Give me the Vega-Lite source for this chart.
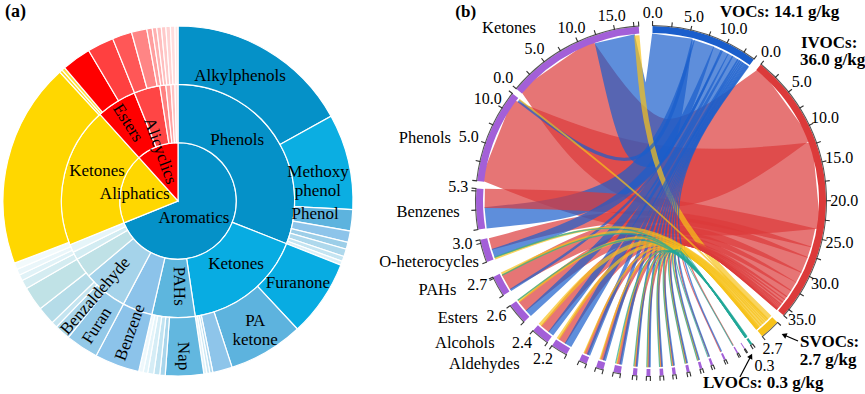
{
"$schema": "https://vega.github.io/schema/vega-lite/v6.json",
"padding": 0,
"spacing": 23,
"config": {"view": {"stroke": null}, "font": "Liberation Serif"},
"resolve": {"scale": {"theta": "independent", "radius": "independent", "color": "independent", "x": "independent", "y": "independent", "size": "independent"}},
"datasets": {
 "sectors": [
  {"n":"VOCs","g":"VOCs","a0":0.5,"a1":36.0},
  {"n":"IVOCs","g":"IVOCs","a0":38.8,"a1":130.8},
  {"n":"SVOCs","g":"SVOCs","a0":133.8,"a1":140.6},
  {"n":"LVOCs","g":"LVOCs","a0":144.6,"a1":145.4},
  {"n":"s13","g":"Receiver","a0":147.5,"a1":147.8},
  {"n":"s12","g":"Receiver","a0":150.1,"a1":150.6},
  {"n":"s11","g":"Receiver","a0":154.7,"a1":155.4},
  {"n":"s10","g":"Receiver","a0":159.2,"a1":160.0},
  {"n":"s9","g":"Receiver","a0":162.9,"a1":163.8},
  {"n":"s8","g":"Receiver","a0":167.2,"a1":168.2},
  {"n":"s7","g":"Receiver","a0":171.8,"a1":172.9},
  {"n":"s6","g":"Receiver","a0":175.9,"a1":177.1},
  {"n":"s5","g":"Receiver","a0":180.2,"a1":181.5},
  {"n":"s4","g":"Receiver","a0":184.6,"a1":186.0},
  {"n":"s3","g":"Receiver","a0":190.0,"a1":192.4},
  {"n":"s2","g":"Receiver","a0":195.8,"a1":198.3},
  {"n":"s1","g":"Receiver","a0":201.6,"a1":204.2},
  {"n":"Aldehydes","g":"Receiver","a0":208.8,"a1":214.4},
  {"n":"Alcohols","g":"Receiver","a0":216.2,"a1":222.3},
  {"n":"Esters","g":"Receiver","a0":226.4,"a1":233.4},
  {"n":"PAHs","g":"Receiver","a0":237.4,"a1":244.3},
  {"n":"O-heterocycles","g":"Receiver","a0":249.6,"a1":257.2},
  {"n":"Benzenes","g":"Receiver","a0":260.6,"a1":274.1},
  {"n":"Phenols","g":"Receiver","a0":276.6,"a1":307.8},
  {"n":"Ketones","g":"Receiver","a0":309.8,"a1":356.0}
 ],
 "arrows": [
  {"id":"SVOCs","a":133.6,"r":1.16,"o":0},
  {"id":"SVOCs","a":135.2,"r":1.079,"o":1},
  {"id":"LVOCs","a":153.2,"r":1.127,"o":0},
  {"id":"LVOCs","a":147.2,"r":1.054,"o":1}
 ]
},
"hconcat": [
 {
  "width": 356, "height": 402,
  "layer": [
   {
    "data": {"values": [
     {"n":"Aromatics","a0":0,"a1":248,"r0":0,"r1":1},
     {"n":"Aliphatics","a0":248,"a1":318,"r0":0,"r1":1},
     {"n":"Alicyclics","a0":318,"a1":360,"r0":0,"r1":1},
     {"n":"Phenols","a0":0,"a1":111.5,"r0":1,"r1":2},
     {"n":"Ketones (aromatic)","a0":111.5,"a1":171.5,"r0":1,"r1":2},
     {"n":"PAHs","a0":171.5,"a1":193,"r0":1,"r1":2},
     {"n":"Benzenes","a0":193,"a1":207.9,"r0":1,"r1":2},
     {"n":"Aromatic aldehydes","a0":207.9,"a1":230,"r0":1,"r1":2},
     {"n":"Aromatic other 1","a0":230,"a1":240,"r0":1,"r1":2},
     {"n":"Aromatic other 2","a0":240,"a1":244,"r0":1,"r1":2},
     {"n":"Aromatic other 3","a0":244,"a1":248,"r0":1,"r1":2},
     {"n":"Ketones (aliphatic)","a0":248,"a1":318,"r0":1,"r1":2},
     {"n":"Esters","a0":318,"a1":338,"r0":1,"r1":2},
     {"n":"Alicyclic other 1","a0":338,"a1":351,"r0":1,"r1":2},
     {"n":"Alicyclic other 2","a0":351,"a1":354,"r0":1,"r1":2},
     {"n":"Alicyclic other 3","a0":354,"a1":356.5,"r0":1,"r1":2},
     {"n":"Alicyclic other 4","a0":356.5,"a1":358.5,"r0":1,"r1":2},
     {"n":"Alicyclic other 5","a0":358.5,"a1":360,"r0":1,"r1":2},
     {"n":"Alkylphenols","a0":0,"a1":61,"r0":2,"r1":3},
     {"n":"Methoxyphenol","a0":61,"a1":92.8,"r0":2,"r1":3},
     {"n":"Phenol","a0":92.8,"a1":99.9,"r0":2,"r1":3},
     {"n":"Phenols 4","a0":99.9,"a1":103.7,"r0":2,"r1":3},
     {"n":"Phenols 5","a0":103.7,"a1":106,"r0":2,"r1":3},
     {"n":"Phenols 6","a0":106,"a1":108.5,"r0":2,"r1":3},
     {"n":"Phenols 7","a0":108.5,"a1":110.2,"r0":2,"r1":3},
     {"n":"Phenols 8","a0":110.2,"a1":111.5,"r0":2,"r1":3},
     {"n":"Furanone","a0":111.5,"a1":137,"r0":2,"r1":3},
     {"n":"PA ketone","a0":137,"a1":162,"r0":2,"r1":3},
     {"n":"Ketones 3","a0":162,"a1":168.5,"r0":2,"r1":3},
     {"n":"Ketones 4","a0":168.5,"a1":169.5,"r0":2,"r1":3},
     {"n":"Ketones 5","a0":169.5,"a1":170.5,"r0":2,"r1":3},
     {"n":"Ketones 6","a0":170.5,"a1":171.5,"r0":2,"r1":3},
     {"n":"Nap","a0":171.5,"a1":184.2,"r0":2,"r1":3},
     {"n":"PAHs 2","a0":184.2,"a1":186,"r0":2,"r1":3},
     {"n":"PAHs 3","a0":186,"a1":188,"r0":2,"r1":3},
     {"n":"PAHs 4","a0":188,"a1":190,"r0":2,"r1":3},
     {"n":"PAHs 5","a0":190,"a1":191.5,"r0":2,"r1":3},
     {"n":"PAHs 6","a0":191.5,"a1":193,"r0":2,"r1":3},
     {"n":"Benzene","a0":193,"a1":207.9,"r0":2,"r1":3},
     {"n":"Furan","a0":207.9,"a1":218.8,"r0":2,"r1":3},
     {"n":"Benzaldehyde","a0":218.8,"a1":224,"r0":2,"r1":3},
     {"n":"Aromatic 4","a0":224,"a1":226,"r0":2,"r1":3},
     {"n":"Aromatic 5","a0":226,"a1":232,"r0":2,"r1":3},
     {"n":"Aromatic 6","a0":232,"a1":240,"r0":2,"r1":3},
     {"n":"Aromatic 7","a0":240,"a1":243,"r0":2,"r1":3},
     {"n":"Aromatic 8","a0":243,"a1":245,"r0":2,"r1":3},
     {"n":"Aromatic 9","a0":245,"a1":247,"r0":2,"r1":3},
     {"n":"Aromatic 10","a0":247,"a1":249.2,"r0":2,"r1":3},
     {"n":"Aliphatic ketones 1","a0":249.2,"a1":317.5,"r0":2,"r1":3},
     {"n":"Aliphatic ketones 2","a0":317.5,"a1":318.5,"r0":2,"r1":3},
     {"n":"Aliphatic ketones 3","a0":318.5,"a1":319.6,"r0":2,"r1":3},
     {"n":"Esters 1","a0":319.6,"a1":329.3,"r0":2,"r1":3},
     {"n":"Esters 2","a0":329.3,"a1":338.1,"r0":2,"r1":3},
     {"n":"Alicyclics 1","a0":338.1,"a1":344.6,"r0":2,"r1":3},
     {"n":"Alicyclics 2","a0":344.6,"a1":349.7,"r0":2,"r1":3},
     {"n":"Alicyclics 3","a0":349.7,"a1":351.5,"r0":2,"r1":3},
     {"n":"Alicyclics 4","a0":351.5,"a1":353,"r0":2,"r1":3},
     {"n":"Alicyclics 5","a0":353,"a1":354.5,"r0":2,"r1":3},
     {"n":"Alicyclics 6","a0":354.5,"a1":356,"r0":2,"r1":3},
     {"n":"Alicyclics 7","a0":356,"a1":357.5,"r0":2,"r1":3},
     {"n":"Alicyclics 8","a0":357.5,"a1":359,"r0":2,"r1":3},
     {"n":"Alicyclics 9","a0":359,"a1":360,"r0":2,"r1":3}
    ]},
    "mark": {"type": "arc", "stroke": "white", "strokeWidth": 1.2},
    "encoding": {
     "theta": {"field": "a0", "type": "quantitative", "stack": null, "scale": {"domain": [0, 360], "range": [0, 6.283185307179586]}},
     "theta2": {"field": "a1"},
     "radius": {"field": "r0", "type": "quantitative", "scale": {"type": "linear", "domain": [0, 3], "range": [0, 175]}},
     "radius2": {"field": "r1"},
     "color": {"field": "n", "type": "nominal", "legend": null, "scale": {
      "domain": ["Aromatics","Aliphatics","Alicyclics","Phenols","Ketones (aromatic)","PAHs","Benzenes","Aromatic aldehydes","Aromatic other 1","Aromatic other 2","Aromatic other 3","Ketones (aliphatic)","Esters","Alicyclic other 1","Alicyclic other 2","Alicyclic other 3","Alicyclic other 4","Alicyclic other 5","Alkylphenols","Methoxyphenol","Phenol","Phenols 4","Phenols 5","Phenols 6","Phenols 7","Phenols 8","Furanone","PA ketone","Ketones 3","Ketones 4","Ketones 5","Ketones 6","Nap","PAHs 2","PAHs 3","PAHs 4","PAHs 5","PAHs 6","Benzene","Furan","Benzaldehyde","Aromatic 4","Aromatic 5","Aromatic 6","Aromatic 7","Aromatic 8","Aromatic 9","Aromatic 10","Aliphatic ketones 1","Aliphatic ketones 2","Aliphatic ketones 3","Esters 1","Esters 2","Alicyclics 1","Alicyclics 2","Alicyclics 3","Alicyclics 4","Alicyclics 5","Alicyclics 6","Alicyclics 7","Alicyclics 8","Alicyclics 9"],
      "range": ["#0591C8","#FFD700","#FF0000","#0591C8","#08ACE2","#5DB6DE","#8CC3EA","#A5D3EA","#BFE1E6","#D3ECF2","#E6F5F9","#FFD700","#FF0000","#FF4545","#FF8080","#FFA3A3","#FFC2C2","#FFDDDD","#0591C8","#0BAEE2","#5DB3DE","#8DC4EA","#9CCEE8","#AED8EC","#C5E5F2","#DCF0F8","#08ACE2","#5DB3DE","#8EC5EA","#B3DAEF","#CDE8F4","#E2F2F9","#62B7DF","#A9D6EC","#C1E3F1","#D5EDF6","#E3F4FA","#EEF8FC","#8CC3EA","#93C9E8","#A9D5EA","#C4E4F0","#B5DCE8","#C0E2E6","#D4ECF1","#E0F2F7","#EAF6FA","#F2FAFC","#FFD700","#FFDC20","#FFE040","#FF0000","#FF4040","#FF5757","#FF8585","#FF9E9E","#FFB0B0","#FFBEBE","#FFC9C9","#FFD3D3","#FFDDDD","#FFE7E7"]}}
    }
   },
   {
    "data": {"values": [
     {"t":"Alkylphenols","ta":26.4,"tr":2.39},
     {"t":"Phenols","ta":44,"tr":1.46},
     {"t":"Methoxy\nphenol","ta":78.3,"tr":2.45},
     {"t":"Phenol","ta":95.4,"tr":2.36},
     {"t":"Furanone","ta":124.4,"tr":2.49},
     {"t":"Ketones","ta":137.4,"tr":1.47},
     {"t":"PA\nketone","ta":147.3,"tr":2.45},
     {"t":"Aromatics","ta":136.7,"tr":0.4},
     {"t":"Aliphatics","ta":279,"tr":0.75},
     {"t":"Ketones","ta":290.3,"tr":1.48}
    ]},
    "mark": {"type": "text", "font": "Liberation Serif", "fontSize": 17, "align": "center", "baseline": "middle", "lineBreak": "\n", "color": "black"},
    "encoding": {
     "theta": {"field": "ta", "type": "quantitative", "stack": null, "scale": {"domain": [0, 360], "range": [0, 6.283185307179586]}},
     "radius": {"field": "tr", "type": "quantitative", "scale": {"type": "linear", "domain": [0, 3], "range": [0, 175]}},
     "text": {"field": "t", "type": "nominal"}
    }
   },
   {
    "data": {"values": [
     {"t":"Nap","ta":178,"tr":2.66},
     {"t":"PAHs","ta":179.3,"tr":1.46},
     {"t":"Benzene","ta":200,"tr":2.4},
     {"t":"Furan","ta":213,"tr":2.55},
     {"t":"Benzaldehyde","ta":221,"tr":2.16},
     {"t":"Esters","ta":327.3,"tr":1.59},
     {"t":"Alicyclics","ta":340.2,"tr":0.91}
    ]},
    "transform": [{"calculate": "datum.ta < 180 ? datum.ta - 90 : datum.ta - 270", "as": "rot"}],
    "mark": {"type": "text", "font": "Liberation Serif", "fontSize": 17, "align": "center", "baseline": "middle", "color": "black"},
    "encoding": {
     "theta": {"field": "ta", "type": "quantitative", "stack": null, "scale": {"domain": [0, 360], "range": [0, 6.283185307179586]}},
     "radius": {"field": "tr", "type": "quantitative", "scale": {"type": "linear", "domain": [0, 3], "range": [0, 175]}},
     "angle": {"field": "rot", "type": "quantitative", "scale": null},
     "text": {"field": "t", "type": "nominal"}
    }
   },
   {
    "data": {"values": [{"t":"(a)","ta":317.5,"tr":4.392}]},
    "mark": {"type": "text", "font": "Liberation Serif", "fontSize": 18, "fontWeight": "bold", "align": "left", "baseline": "middle", "color": "black"},
    "encoding": {
     "theta": {"field": "ta", "type": "quantitative", "stack": null, "scale": {"domain": [0, 360], "range": [0, 6.283185307179586]}},
     "radius": {"field": "tr", "type": "quantitative", "scale": {"type": "linear", "domain": [0, 3], "range": [0, 175]}},
     "text": {"field": "t", "type": "nominal"}
    }
   }
  ]
 },
 {
  "width": 434, "height": 402,
  "layer": [
   {
    "data": {"values": [
     {"id":"c01","s":"IVOCs","v":12,"a0":54.1,"a1":325.1},
     {"id":"c02","s":"IVOCs","v":11.8,"a0":84.6,"a1":291.6},
     {"id":"c03","s":"VOCs","v":5.5,"a0":7.4,"a1":347.4},
     {"id":"c04","s":"VOCs","v":2.8,"a0":18.6,"a1":264.2},
     {"id":"c05","s":"IVOCs","v":2.5,"a0":102.8,"a1":270.9},
     {"id":"c06","s":"IVOCs","v":2.2,"a0":112.6,"a1":240.7},
     {"id":"c07","s":"IVOCs","v":1.5,"a0":107.9,"a1":255.0},
     {"id":"c08","s":"IVOCs","v":1.5,"a0":117.3,"a1":230.6},
     {"id":"c09","s":"IVOCs","v":1.3,"a0":121.0,"a1":219.65},
     {"id":"c10","s":"VOCs","v":1.1,"a0":23.6,"a1":251.7},
     {"id":"c11","s":"IVOCs","v":1.0,"a0":123.9,"a1":212.35},
     {"id":"c12","s":"VOCs","v":0.9,"a0":26.5,"a1":227.55},
     {"id":"c13","s":"VOCs","v":0.9,"a0":30.5,"a1":209.95},
     {"id":"c14","s":"VOCs","v":0.7,"a0":28.6,"a1":217.1},
     {"id":"c15","s":"SVOCs","v":0.6,"a0":134.55,"a1":355.1},
     {"id":"c16","s":"IVOCs","v":0.5,"a0":125.8,"a1":202.9},
     {"id":"c17","s":"IVOCs","v":0.45,"a0":127.0,"a1":197.05},
     {"id":"c18","s":"IVOCs","v":0.4,"a0":128.0,"a1":191.2},
     {"id":"c19","s":"IVOCs","v":0.2,"a0":128.7,"a1":185.3},
     {"id":"c20","s":"IVOCs","v":0.18,"a0":129.2,"a1":180.85},
     {"id":"c21","s":"IVOCs","v":0.15,"a0":129.6,"a1":176.5},
     {"id":"c22","s":"IVOCs","v":0.12,"a0":130.0,"a1":172.35},
     {"id":"c23","s":"IVOCs","v":0.1,"a0":130.25,"a1":167.7},
     {"id":"c24","s":"IVOCs","v":0.04,"a0":130.45,"a1":163.35},
     {"id":"c25","s":"IVOCs","v":0.03,"a0":130.6,"a1":159.6},
     {"id":"c26","s":"IVOCs","v":0.02,"a0":130.7,"a1":155.2},
     {"id":"c27","s":"IVOCs","v":0.01,"a0":130.75,"a1":150.3},
     {"id":"c28","s":"VOCs","v":0.35,"a0":31.9,"a1":202.1},
     {"id":"c29","s":"VOCs","v":0.3,"a0":32.6,"a1":196.3},
     {"id":"c30","s":"VOCs","v":0.25,"a0":33.2,"a1":190.5},
     {"id":"c31","s":"VOCs","v":0.15,"a0":33.7,"a1":184.9},
     {"id":"c32","s":"VOCs","v":0.15,"a0":34.1,"a1":180.45},
     {"id":"c33","s":"VOCs","v":0.12,"a0":34.5,"a1":176.15},
     {"id":"c34","s":"VOCs","v":0.1,"a0":34.85,"a1":172.0},
     {"id":"c35","s":"VOCs","v":0.1,"a0":35.15,"a1":167.4},
     {"id":"c36","s":"VOCs","v":0.08,"a0":35.45,"a1":163.1},
     {"id":"c37","s":"VOCs","v":0.05,"a0":35.7,"a1":159.4},
     {"id":"c38","s":"VOCs","v":0.05,"a0":35.9,"a1":154.9},
     {"id":"c39","s":"VOCs","v":0.3,"a0":14.7,"a1":307.1},
     {"id":"c40","s":"VOCs","v":0.2,"a0":25.2,"a1":237.65},
     {"id":"c41","s":"SVOCs","v":0.1,"a0":135.4,"a1":307.6},
     {"id":"c42","s":"SVOCs","v":0.2,"a0":135.8,"a1":249.85},
     {"id":"c43","s":"SVOCs","v":0.3,"a0":136.4,"a1":243.95},
     {"id":"c44","s":"SVOCs","v":0.3,"a0":137.2,"a1":232.9},
     {"id":"c45","s":"SVOCs","v":0.4,"a0":138.05,"a1":221.8},
     {"id":"c46","s":"SVOCs","v":0.3,"a0":138.9,"a1":214.0},
     {"id":"c47","s":"SVOCs","v":0.1,"a0":139.45,"a1":203.7},
     {"id":"c48","s":"SVOCs","v":0.1,"a0":139.7,"a1":197.8},
     {"id":"c49","s":"SVOCs","v":0.08,"a0":139.9,"a1":191.9},
     {"id":"c50","s":"SVOCs","v":0.05,"a0":140.05,"a1":185.7},
     {"id":"c51","s":"SVOCs","v":0.05,"a0":140.15,"a1":181.25},
     {"id":"c52","s":"SVOCs","v":0.04,"a0":140.3,"a1":176.85},
     {"id":"c53","s":"SVOCs","v":0.03,"a0":140.4,"a1":172.7},
     {"id":"c54","s":"SVOCs","v":0.03,"a0":140.48,"a1":168.0},
     {"id":"c55","s":"SVOCs","v":0.02,"a0":140.55,"a1":163.6},
     {"id":"c56","s":"LVOCs","v":0.05,"a0":144.7,"a1":250.2},
     {"id":"c57","s":"LVOCs","v":0.05,"a0":144.85,"a1":243.55},
     {"id":"c58","s":"LVOCs","v":0.05,"a0":145.0,"a1":233.3},
     {"id":"c59","s":"LVOCs","v":0.03,"a0":145.08,"a1":192.3},
     {"id":"c60","s":"LVOCs","v":0.02,"a0":145.12,"a1":185.95},
     {"id":"c61","s":"LVOCs","v":0.02,"a0":145.16,"a1":181.45},
     {"id":"c62","s":"LVOCs","v":0.02,"a0":145.2,"a1":177.05},
     {"id":"c63","s":"LVOCs","v":0.02,"a0":145.24,"a1":172.85},
     {"id":"c64","s":"LVOCs","v":0.02,"a0":145.28,"a1":168.15},
     {"id":"c65","s":"LVOCs","v":0.02,"a0":145.32,"a1":163.75},
     {"id":"c66","s":"LVOCs","v":0.02,"a0":145.36,"a1":159.95},
     {"id":"c67","s":"LVOCs","v":0.01,"a0":145.38,"a1":150.5}
    ]},
    "transform": [
     {"fold": ["a0", "am", "a1"], "as": ["pt", "ang"]},
     {"calculate": "datum.pt === 'am' ? 0 : 0.95 * sin(datum.ang * PI / 180)", "as": "x"},
     {"calculate": "datum.pt === 'am' ? 0 : 0.95 * cos(datum.ang * PI / 180)", "as": "y"},
     {"calculate": "indexof(['a0','am','a1'], datum.pt)", "as": "o"}
    ],
    "mark": {"type": "line", "interpolate": "basis", "opacity": 0.7, "strokeCap": "butt", "strokeJoin": "round", "clip": true},
    "encoding": {
     "x": {"field": "x", "type": "quantitative", "scale": {"domain": [-1.24, 1.24], "nice": false, "zero": false}, "axis": null},
     "y": {"field": "y", "type": "quantitative", "scale": {"domain": [-1.1486, 1.1486], "nice": false, "zero": false}, "axis": null},
     "detail": {"field": "id", "type": "nominal"},
     "order": {"field": "o", "type": "quantitative"},
     "color": {"field": "s", "type": "nominal", "legend": null, "scale": {"domain": ["VOCs","IVOCs","SVOCs","LVOCs","Receiver"], "range": ["#1A5ECC","#DC3A3A","#F7C21A","#22A898","#A35FD8"]}},
     "size": {"field": "v", "type": "quantitative", "legend": null, "scale": {"domain": [0, 12], "range": [1, 88]}}
    }
   },
   {
    "data": {"name": "arrows"},
    "transform": [
     {"calculate": "datum.r * sin(datum.a * PI / 180)", "as": "x"},
     {"calculate": "datum.r * cos(datum.a * PI / 180)", "as": "y"}
    ],
    "mark": {"type": "line", "color": "black", "strokeWidth": 1.2},
    "encoding": {
     "x": {"field": "x", "type": "quantitative", "scale": {"domain": [-1.24, 1.24], "nice": false, "zero": false}, "axis": null},
     "y": {"field": "y", "type": "quantitative", "scale": {"domain": [-1.1486, 1.1486], "nice": false, "zero": false}, "axis": null},
     "detail": {"field": "id", "type": "nominal"},
     "order": {"field": "o", "type": "quantitative"}
    }
   },
   {
    "data": {"name": "arrows"},
    "transform": [
     {"calculate": "datum.r * sin(datum.a * PI / 180)", "as": "x"},
     {"calculate": "datum.r * cos(datum.a * PI / 180)", "as": "y"},
     {"window": [{"op": "lag", "field": "x", "as": "px"}, {"op": "lag", "field": "y", "as": "py"}], "groupby": ["id"], "sort": [{"field": "o"}]},
     {"filter": "datum.o === 1"},
     {"calculate": "atan2(datum.x - datum.px, datum.y - datum.py) * 180 / PI", "as": "hd"}
    ],
    "mark": {"type": "point", "shape": "triangle-up", "filled": true, "color": "black", "size": 35, "opacity": 1},
    "encoding": {
     "x": {"field": "x", "type": "quantitative", "scale": {"domain": [-1.24, 1.24], "nice": false, "zero": false}, "axis": null},
     "y": {"field": "y", "type": "quantitative", "scale": {"domain": [-1.1486, 1.1486], "nice": false, "zero": false}, "axis": null},
     "angle": {"field": "hd", "type": "quantitative", "scale": null}
    }
   },
   {
    "data": {"name": "sectors"},
    "mark": {"type": "arc"},
    "encoding": {
     "theta": {"field": "a0", "type": "quantitative", "stack": null, "scale": {"domain": [0, 360], "range": [0, 6.283185307179586]}},
     "theta2": {"field": "a1"},
     "radius": {"datum": 0.96, "type": "quantitative", "scale": {"type": "linear", "domain": [0, 1], "range": [0, 175]}},
     "radius2": {"datum": 1.0},
     "color": {"field": "g", "type": "nominal", "legend": null, "scale": {"domain": ["VOCs","IVOCs","SVOCs","LVOCs","Receiver"], "range": ["#1A5ECC","#DC3A3A","#F7C21A","#22A898","#A35FD8"]}}
    }
   },
   {
    "data": {"name": "sectors"},
    "mark": {"type": "arc", "color": "#555555"},
    "encoding": {
     "theta": {"field": "a0", "type": "quantitative", "stack": null, "scale": {"domain": [0, 360], "range": [0, 6.283185307179586]}},
     "theta2": {"field": "a1"},
     "radius": {"datum": 1.0, "type": "quantitative", "scale": {"type": "linear", "domain": [0, 1], "range": [0, 175]}},
     "radius2": {"datum": 1.006}
    }
   },
   {
    "data": {"values": [
     {"a":0.5},{"a":6.8},{"a":13.1},{"a":19.4},{"a":25.7},{"a":32.0},{"a":36.0},
     {"a":38.8},{"a":45.2},{"a":51.6},{"a":58.0},{"a":64.4},{"a":70.7},{"a":77.1},{"a":83.5},{"a":89.9},{"a":96.3},{"a":102.7},{"a":109.1},{"a":115.5},{"a":121.9},{"a":128.2},{"a":130.8},
     {"a":133.8},{"a":140.6},{"a":144.6},{"a":145.4},
     {"a":147.5},{"a":147.8},{"a":150.1},{"a":150.6},{"a":154.7},{"a":155.4},{"a":159.2},{"a":160.0},{"a":162.9},{"a":163.8},{"a":167.2},{"a":168.2},{"a":171.8},{"a":172.9},{"a":175.9},{"a":177.1},{"a":180.2},{"a":181.5},{"a":184.6},{"a":186.0},{"a":190.0},{"a":192.4},{"a":195.8},{"a":198.3},{"a":201.6},{"a":204.2},
     {"a":208.8},{"a":214.4},{"a":216.2},{"a":222.3},{"a":226.4},{"a":233.4},
     {"a":237.4},{"a":243.8},{"a":244.3},{"a":249.6},{"a":256.0},{"a":257.2},
     {"a":260.6},{"a":267.0},{"a":273.3},{"a":274.1},
     {"a":276.6},{"a":283.0},{"a":289.3},{"a":295.7},{"a":302.0},{"a":307.8},
     {"a":309.8},{"a":316.2},{"a":322.5},{"a":328.9},{"a":335.3},{"a":341.6},{"a":348.0},{"a":354.4},{"a":356.0}
    ]},
    "transform": [
     {"calculate": "datum.a - 0.18", "as": "t0"},
     {"calculate": "datum.a + 0.18", "as": "t1"}
    ],
    "mark": {"type": "arc", "color": "#333333"},
    "encoding": {
     "theta": {"field": "t0", "type": "quantitative", "stack": null, "scale": {"domain": [0, 360], "range": [0, 6.283185307179586]}},
     "theta2": {"field": "t1"},
     "radius": {"datum": 1.0, "type": "quantitative", "scale": {"type": "linear", "domain": [0, 1], "range": [0, 175]}},
     "radius2": {"datum": 1.028}
    }
   },
   {
    "data": {"values": [
     {"t":"0.0","a":0.5},{"t":"5.0","a":13.1},{"t":"10.0","a":25.7},
     {"t":"0.0","a":38.8},{"t":"5.0","a":51.6},{"t":"10.0","a":64.4},{"t":"15.0","a":77.1},{"t":"20.0","a":89.9},{"t":"25.0","a":102.7},{"t":"30.0","a":115.5},{"t":"35.0","a":128.2},
     {"t":"2.7","a":140.6},{"t":"0.3","a":145.4,"dr":0.05},
     {"t":"2.2","a":214.4},{"t":"2.4","a":222.3},{"t":"2.6","a":233.4},{"t":"2.7","a":244.3},{"t":"3.0","a":257.2},{"t":"5.3","a":274.1},
     {"t":"5.0","a":289.3},{"t":"10.0","a":302.0},
     {"t":"0.0","a":309.8},{"t":"5.0","a":322.5},{"t":"10.0","a":335.3},{"t":"15.0","a":348.0}
    ]},
    "transform": [{"calculate": "1.075 + 0.03 * abs(sin(datum.a * PI / 180)) + (datum.dr ? datum.dr : 0)", "as": "lr"}],
    "mark": {"type": "text", "font": "Liberation Serif", "fontSize": 16, "align": "center", "baseline": "middle", "color": "black"},
    "encoding": {
     "theta": {"field": "a", "type": "quantitative", "stack": null, "scale": {"domain": [0, 360], "range": [0, 6.283185307179586]}},
     "radius": {"field": "lr", "type": "quantitative", "scale": {"type": "linear", "domain": [0, 1], "range": [0, 175]}},
     "text": {"field": "t", "type": "nominal"}
    }
   },
   {
    "data": {"values": [
     {"t":"Ketones","a":326.4,"r":1.187},
     {"t":"Phenols","a":287.5,"r":1.198},
     {"t":"Benzenes","a":266.8,"r":1.095},
     {"t":"O-heterocycles","a":250.6,"r":1.042},
     {"t":"PAHs","a":245.4,"r":1.223},
     {"t":"Esters","a":235.9,"r":1.194},
     {"t":"Alcohols","a":227.7,"r":1.208},
     {"t":"Aldehydes","a":218.9,"r":1.196}
    ]},
    "mark": {"type": "text", "font": "Liberation Serif", "fontSize": 16.5, "align": "right", "baseline": "middle", "color": "black"},
    "encoding": {
     "theta": {"field": "a", "type": "quantitative", "stack": null, "scale": {"domain": [0, 360], "range": [0, 6.283185307179586]}},
     "radius": {"field": "r", "type": "quantitative", "scale": {"type": "linear", "domain": [0, 1], "range": [0, 175]}},
     "text": {"field": "t", "type": "nominal"}
    }
   },
   {
    "data": {"values": [
     {"t":"VOCs: 14.1 g/kg","a":20.05,"r":1.15},
     {"t":"IVOCs:","a":43.5,"r":1.245},
     {"t":"36.0 g/kg","a":46.6,"r":1.172},
     {"t":"SVOCs:","a":133.4,"r":1.172},
     {"t":"2.7 g/kg","a":136.9,"r":1.245},
     {"t":"LVOCs: 0.3 g/kg","a":164.05,"r":1.082},
     {"t":"(b)","a":314.05,"r":1.556}
    ]},
    "mark": {"type": "text", "font": "Liberation Serif", "fontSize": 17, "fontWeight": "bold", "align": "left", "baseline": "middle", "color": "black"},
    "encoding": {
     "theta": {"field": "a", "type": "quantitative", "stack": null, "scale": {"domain": [0, 360], "range": [0, 6.283185307179586]}},
     "radius": {"field": "r", "type": "quantitative", "scale": {"type": "linear", "domain": [0, 1], "range": [0, 175]}},
     "text": {"field": "t", "type": "nominal"}
    }
   }
  ]
 }
]
}
